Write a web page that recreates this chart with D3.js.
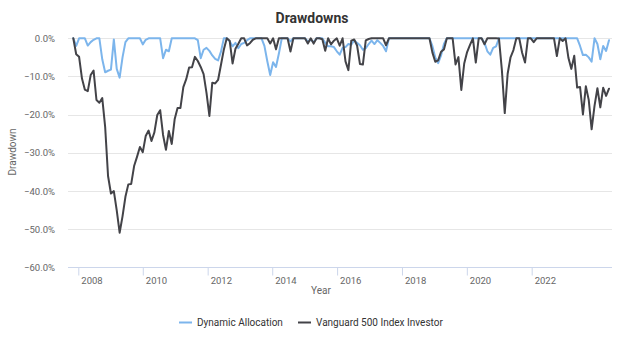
<!DOCTYPE html>
<html>
<head>
<meta charset="utf-8">
<script src="https://cdn.jsdelivr.net/npm/d3@7/dist/d3.min.js"></script>
<style>
  html, body { margin: 0; padding: 0; background: #fff; }
  svg { display: block; font-family: Roboto, "Noto Sans", Arial, sans-serif; }
</style>
</head>
<body>
<svg id="chart" width="624" height="346"></svg>
<script>
// Monthly observations, index 0 = Oct 2007 ... index 185 = Mar 2023
const seriesNames = ["Dynamic Allocation", "Vanguard 500 Index Investor"];
const seriesColors = ["#7cb5ec", "#434348"];

const dynamicAllocation = [
  0, -2.0, 0, 0, 0, -1.9, -1.0, -0.4, 0, 0,
  -5.5, -8.9, -8.5, -8.2, -0.3, -8.0, -10.3, -5.0, -1.0, 0,
  0, 0, 0, 0, -1.6, -0.4, 0, 0, 0, 0,
  0, -5.2, -3.0, -3.4, 0, 0, 0, 0, 0, 0,
  0, 0, 0, -0.5, -5.2, -3.0, -2.5, -3.3, -4.5, -5.4,
  -5.8, -3.5, 0, 0, -0.8, -2.1, -1.2, -2.6, -1.5, -1.2,
  -0.5, 0, 0, 0, 0, 0, -2.0, -6.0, -9.6, -6.3,
  -7.5, -4.0, 0, 0, 0, -0.8, 0, 0, 0, 0,
  0, -0.8, -0.4, -1.0, 0, 0, 0, -1.2, -2.1, -2.1,
  -2.3, -3.4, -4.3, -2.5, -2.3, -1.5, -1.7, -0.5, -1.2, -1.8,
  -3.0, -2.6, -1.5, -0.6, -1.5, -0.5, -1.2, -2.0, -3.4, 0,
  0, 0, 0, 0, 0, 0, 0, 0, 0, 0,
  0, 0, 0, 0, -2.0, -5.0, -6.5, -4.5, -1.5, 0,
  0, 0, 0, 0, 0, 0, 0, 0, 0, 0,
  0, 0, -1.2, -3.4, -4.3, -2.5, -2.1, 0, 0, 0,
  0, 0, 0, 0, 0, 0, 0, 0, 0, 0,
  0, 0, 0, 0, 0, 0, 0, 0, 0, 0,
  0, 0, 0, 0, 0, -2.0, -4.4, -4.3, -5.0, -6.1,
  0, -1.5, -5.5, -2.0, -3.3, -0.5
];

const vanguard500 = [
  0, -4.18, -4.84, -10.55, -13.46, -13.83, -9.63, -8.46, -16.17, -16.88,
  -15.67, -23.19, -36.08, -40.67, -40.04, -45.10, -50.94, -46.64, -41.54, -38.27,
  -38.15, -33.47, -31.07, -28.50, -29.83, -25.62, -24.18, -26.91, -24.65, -20.10,
  -18.84, -25.32, -29.23, -24.27, -27.68, -21.23, -18.24, -18.23, -12.77, -10.70,
  -7.64, -7.60, -4.86, -5.94, -7.51, -9.39, -14.31, -20.33, -11.62, -11.82,
  -10.92, -6.93, -2.91, 0, -0.63, -6.60, -2.75, -1.40, 0, 0,
  -1.85, -1.28, -0.38, 0, 0, 0, 0, 0, -1.34, 0,
  -2.90, 0, 0, 0, 0, -3.46, 0, 0, 0, 0,
  0, -1.38, 0, -1.40, 0, 0, -0.25, -3.24, 0, -1.58,
  -0.64, 0, -1.94, 0, -6.03, -8.35, -0.62, -0.32, -1.89, -6.76,
  -6.88, -0.57, -0.18, 0, 0, 0, 0, 0, -1.82, 0,
  0, 0, 0, 0, 0, 0, 0, 0, 0, 0,
  0, 0, 0, 0, -3.69, -6.14, -5.78, -3.51, -2.91, 0,
  0, 0, -6.84, -4.94, -13.52, -6.60, -3.60, -1.73, 0, -6.35,
  0, 0, -1.58, 0, 0, 0, 0, -0.04, -8.27, -19.60,
  -9.29, -4.97, -3.08, 0, 0, -3.80, -6.36, 0, 0, -1.01,
  0, 0, 0, 0, 0, 0, 0, -4.65, 0, -0.69,
  0, -5.17, -8.01, -4.59, -12.91, -12.75, -19.95, -12.57, -16.14, -23.86,
  -17.69, -13.09, -18.10, -12.95, -15.08, -13.2
];

const yTicks = [0, -10, -20, -30, -40, -50, -60];
const xTickLabels = ["2008", "2010", "2012", "2014", "2016", "2018", "2020", "2022"];
const xTickPositions = [1.73, 24.0, 46.4, 68.7, 91.1, 113.5, 135.9, 158.3]; // in month-index units

const svg = d3.select("#chart");
const plotLeft = 68, plotRight = 612, plotTop = 38.3, plotBottom = 267.3;

const x = d3.scaleLinear().domain([0, vanguard500.length - 1]).range([73.3, 609]);
const y = d3.scaleLinear().domain([-60, 0]).range([plotBottom, plotTop]);

// Title
svg.append("text")
  .attr("x", 312).attr("y", 23)
  .attr("text-anchor", "middle")
  .style("font-size", "14px").style("font-weight", "bold").style("fill", "#333333")
  .text("Drawdowns");

// Gridlines
svg.append("g").selectAll("line").data(yTicks.filter(d => d !== -60)).join("line")
  .attr("x1", plotLeft).attr("x2", plotRight)
  .attr("y1", d => Math.round(y(d)) + 0.5).attr("y2", d => Math.round(y(d)) + 0.5)
  .attr("stroke", "#e6e6e6").attr("stroke-width", 1);

// Y axis labels
const yAxis = d3.axisLeft(y).tickValues(yTicks).tickSize(0).tickPadding(0)
  .tickFormat(d => d3.format(".1f")(d) + "%");
const yg = svg.append("g").attr("transform", "translate(55,0)").call(yAxis);
yg.select(".domain").remove();
yg.selectAll("text").style("font-size", "9.5px").style("fill", "#666666")
  .style("font-family", "Roboto, 'Noto Sans', Arial, sans-serif");

// Y axis title
svg.append("text")
  .attr("transform", "translate(16," + 152 + ") rotate(-90)")
  .attr("text-anchor", "middle")
  .style("font-size", "10px").style("fill", "#666666")
  .text("Drawdown");

// X axis
const xAxis = d3.axisBottom(x).tickValues(xTickPositions).tickSize(8)
  .tickFormat((d, i) => xTickLabels[i]);
const xg = svg.append("g").attr("transform", "translate(0," + (Math.round(plotBottom) + 0.5) + ")").call(xAxis);
xg.select(".domain").attr("d", "M" + plotLeft + ",0H" + plotRight).attr("stroke", "#ccd6eb");
xg.selectAll(".tick line").attr("stroke", "#ccd6eb");
xg.selectAll(".tick text")
  .attr("text-anchor", "start").attr("x", 2.5).attr("y", 10).attr("dy", "0.71em")
  .style("font-size", "9.5px").style("fill", "#666666")
  .style("font-family", "Roboto, 'Noto Sans', Arial, sans-serif");

// X axis title
svg.append("text")
  .attr("x", 321).attr("y", 294)
  .attr("text-anchor", "middle")
  .style("font-size", "10px").style("fill", "#666666")
  .text("Year");

// Lines
const line = d3.line().x((d, i) => x(i)).y(d => y(d)).curve(d3.curveLinear);
const allSeries = [dynamicAllocation, vanguard500];
svg.append("g").selectAll("path").data(allSeries).join("path")
  .attr("d", d => line(d))
  .attr("fill", "none")
  .attr("stroke", (d, i) => seriesColors[i])
  .attr("stroke-width", 2)
  .attr("stroke-linejoin", "round").attr("stroke-linecap", "round");

// Legend
const legendItems = [
  { name: seriesNames[0], color: seriesColors[0], x: 179 },
  { name: seriesNames[1], color: seriesColors[1], x: 298 }
];
const lg = svg.append("g").selectAll("g").data(legendItems).join("g")
  .attr("transform", d => "translate(" + d.x + ",322.5)");
lg.append("line").attr("x1", 0).attr("x2", 13).attr("y1", 0).attr("y2", 0)
  .attr("stroke", d => d.color).attr("stroke-width", 2);
lg.append("text").attr("x", 18).attr("y", 0).attr("dy", "0.35em")
  .style("font-size", "10px").style("fill", "#333333")
  .text(d => d.name);
</script>
</body>
</html>
